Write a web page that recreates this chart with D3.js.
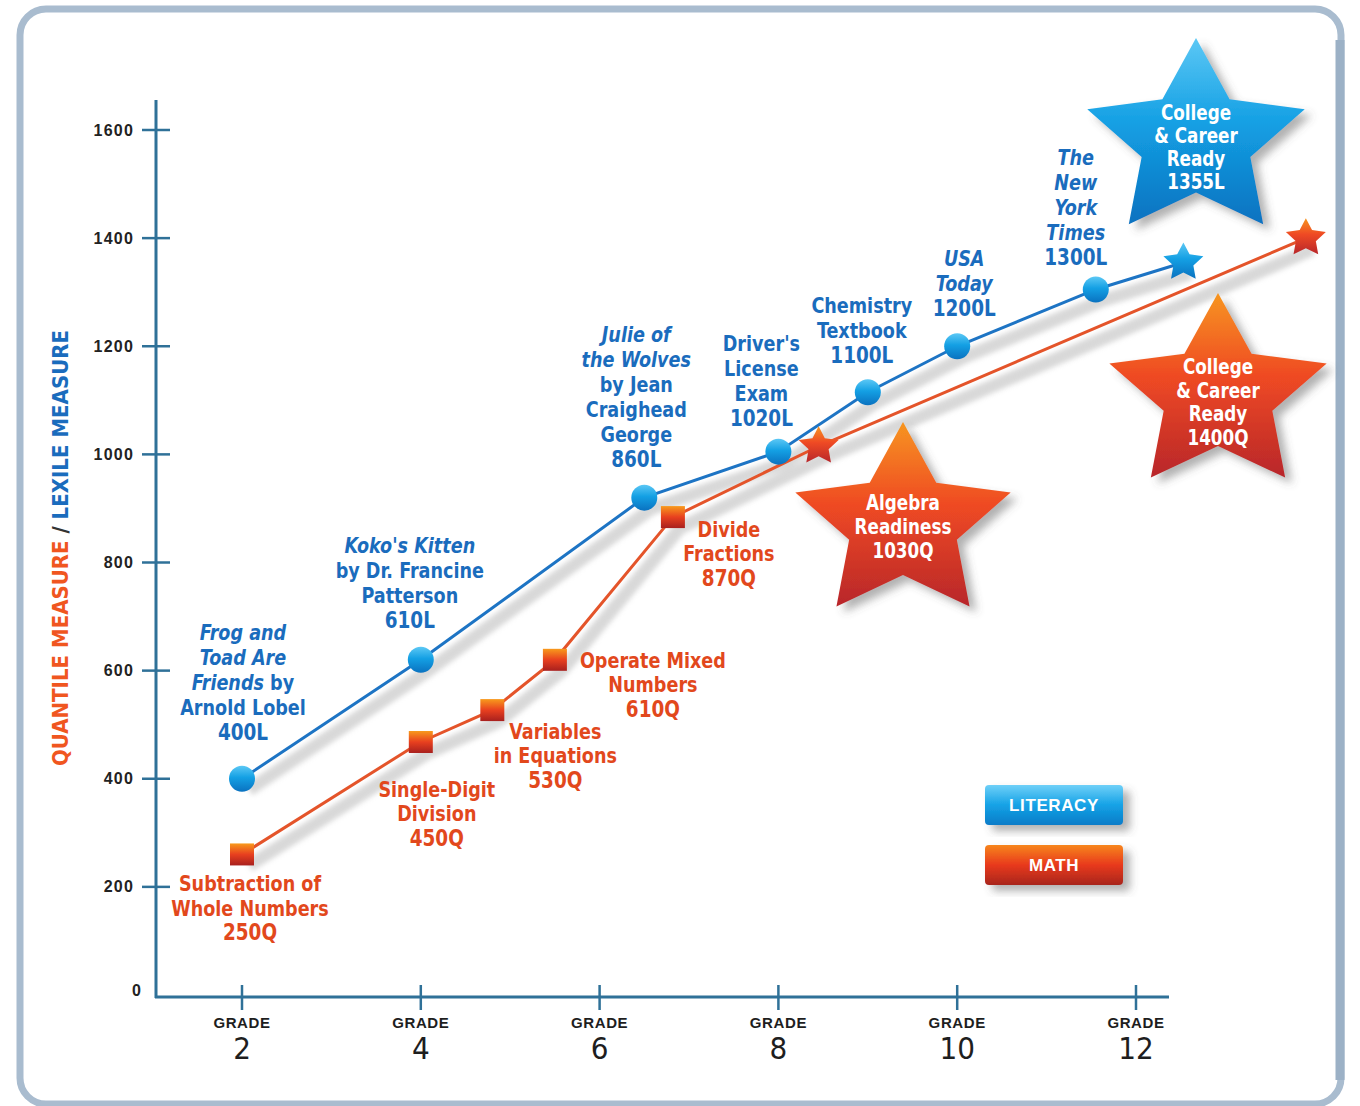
<!DOCTYPE html>
<html><head><meta charset="utf-8">
<script src="https://cdn.jsdelivr.net/npm/d3@7"></script>
<style>
html,body{margin:0;padding:0;background:#fff;}
svg{display:block;}
</style></head>
<body>
<script>
// ---------- DATA ----------
const yTicks = [0, 200, 400, 600, 800, 1000, 1200, 1400, 1600];
const gradeTicks = [2, 4, 6, 8, 10, 12];

const literacyGrades = [2, 4, 6.5, 8, 9, 10, 11.55];
const literacyValues = [400, 620, 920, 1005, 1115, 1200, 1305];
const literacyGoalGrade = 12.53, literacyGoalValue = 1355;

const mathGrades = [2, 4, 4.8, 5.5, 6.82];
const mathValues = [260, 468, 527, 620, 884];
const mathStarGrades = [8.45, 13.9];
const mathStarValues = [1015, 1400];

const literacyLabels = [
  ["*Frog and*", "*Toad Are*", "*Friends* by", "Arnold Lobel", "!400L"],
  ["*Koko's Kitten*", "by Dr. Francine", "Patterson", "!610L"],
  ["*Julie of*", "*the Wolves*", "by Jean", "Craighead", "George", "!860L"],
  ["Driver's", "License", "Exam", "!1020L"],
  ["Chemistry", "Textbook", "!1100L"],
  ["*USA*", "*Today*", "!1200L"],
  ["*The*", "*New*", "*York*", "*Times*", "!1300L"]
];
const mathLabels = [
  ["Subtraction of", "Whole Numbers", "!250Q"],
  ["Single-Digit", "Division", "!450Q"],
  ["Variables", "in Equations", "!530Q"],
  ["Operate Mixed", "Numbers", "!610Q"],
  ["Divide", "Fractions", "!870Q"]
];
const bigStarTexts = [
  ["College", "& Career", "Ready", "1355L"],
  ["Algebra", "Readiness", "1030Q"],
  ["College", "& Career", "Ready", "1400Q"]
];
const legendItems = ["LITERACY", "MATH"];

// ---------- LAYOUT ----------
const W = 1360, H = 1106;
const litOffsets = [[1,-146],[-11,-115],[-8,-163],[-17,-108],[-6,-87],[7,-88],[-20,-132]];
const mathOffsets = [[8,29],[16,47],[63,21],[98,0],[56,12]];
const bigStars = [
  {cx:1196, cy:141, R:103, sx:1.11, kind:"blue", ty:113, lh:23},
  {cx:903, cy:524, R:102, sx:1.11, kind:"orange", ty:503, lh:24},
  {cx:1218, cy:395, R:102, sx:1.12, kind:"orange", ty:367, lh:23.5}
];
const FONT = "'DejaVu Sans Condensed','Liberation Sans',sans-serif";
const SX = 0.89;
const BLUE_TXT = "#1a6cbd", ORG_TXT = "#e2481c";
const BLUE_LINE = "#1d74c4", ORG_LINE = "#e4542a", AXIS = "#2f7198";

const svg = d3.select("body").append("svg").attr("width", W).attr("height", H);
const defs = svg.append("defs");

function grad(id, stops) {
  const g = defs.append("linearGradient").attr("id", id).attr("x1",0).attr("y1",0).attr("x2",0).attr("y2",1);
  stops.forEach(([o,c]) => g.append("stop").attr("offset", o).attr("stop-color", c));
}
grad("gBlue", [[0,"#5cc8f5"],[0.45,"#14a0e4"],[1,"#0a72c0"]]);
grad("gOrange", [[0,"#f7951f"],[0.45,"#ef4a24"],[1,"#b8262a"]]);
grad("gSquare", [[0,"#f89a1c"],[0.5,"#e8401f"],[1,"#a8201e"]]);
grad("gBtnBlue", [[0,"#6fd0f8"],[0.5,"#14a2e6"],[1,"#0a7cc8"]]);
grad("gBtnOrange", [[0,"#f7861f"],[0.5,"#e8391f"],[1,"#a8261e"]]);

const fShadow = defs.append("filter").attr("id","shadow").attr("x","-30%").attr("y","-30%").attr("width","160%").attr("height","160%");
fShadow.append("feDropShadow").attr("dx",7).attr("dy",6).attr("stdDeviation",4).attr("flood-color","#555").attr("flood-opacity",0.45);
const fBlur = defs.append("filter").attr("id","blur").attr("x","-10%").attr("y","-10%").attr("width","120%").attr("height","120%");
fBlur.append("feGaussianBlur").attr("stdDeviation",2.5);

// frame
svg.append("rect").attr("x",20).attr("y",9).attr("width",1321).attr("height",1095).attr("rx",26)
  .attr("fill","#fff").attr("stroke","#a9bccf").attr("stroke-width",7);
svg.append("path").attr("d","M1340,40 L1340,1080").attr("stroke","#9cb1c6").attr("stroke-width",9);

// scales
const x = d3.scaleLinear().domain([2,12]).range([242,1136]);
const y = d3.scaleLinear().domain([0,1600]).range([995,130]);

// axes
const yAxis = svg.append("g").attr("transform","translate(156,0)");
yAxis.append("line").attr("x1",0).attr("x2",0).attr("y1",100).attr("y2",998).attr("stroke",AXIS).attr("stroke-width",3);
yAxis.selectAll("line.t").data(yTicks.filter(d=>d>0)).join("line").attr("class","t")
  .attr("x1",-14).attr("x2",14).attr("y1",d=>y(d)).attr("y2",d=>y(d)).attr("stroke",AXIS).attr("stroke-width",2.5);
yAxis.selectAll("text").data(yTicks).join("text")
  .attr("x", d => d === 0 ? -14 : -22).attr("y", d => d === 0 ? y(d)-5 : y(d)).attr("dy","0.35em")
  .attr("text-anchor","end").attr("font-family","'Liberation Sans',Arial,sans-serif").attr("font-weight","bold")
  .attr("font-size",16).attr("letter-spacing","1.2").attr("fill","#222").text(d=>d);

const xAxis = svg.append("g");
xAxis.append("line").attr("x1",155).attr("x2",1169).attr("y1",997).attr("y2",997).attr("stroke",AXIS).attr("stroke-width",3);
xAxis.selectAll("line.t").data(gradeTicks).join("line").attr("class","t")
  .attr("x1",d=>x(d)).attr("x2",d=>x(d)).attr("y1",985).attr("y2",1010).attr("stroke",AXIS).attr("stroke-width",2.5);
xAxis.selectAll("text.g").data(gradeTicks).join("text").attr("class","g")
  .attr("x",d=>x(d)).attr("y",1028).attr("text-anchor","middle").attr("font-family","'Liberation Sans',Arial,sans-serif")
  .attr("font-weight","bold").attr("font-size",15).attr("fill","#1e1e1e").attr("letter-spacing","0.6").text("GRADE");
xAxis.selectAll("text.n").data(gradeTicks).join("text").attr("class","n")
  .attr("x",d=>x(d)).attr("y",1059).attr("text-anchor","middle").attr("font-family","'DejaVu Sans Condensed','Liberation Sans',sans-serif")
  .attr("font-size",31).attr("fill","#1e1e1e").text(d=>d);

// y title
const yt = svg.append("text").attr("transform","translate(68,548) rotate(-90)").attr("text-anchor","middle")
  .attr("font-family",FONT).attr("font-weight","bold").attr("font-size",22);
yt.append("tspan").attr("fill","#f0561f").text("QUANTILE MEASURE");
yt.append("tspan").attr("fill","#333").text(" / ");
yt.append("tspan").attr("fill","#1a6cbd").text("LEXILE MEASURE");

// line data
const litPts = literacyGrades.map((g,i)=>[x(g), y(literacyValues[i])]).concat([[x(literacyGoalGrade), y(literacyGoalValue)]]);
const mathPts = mathGrades.map((g,i)=>[x(g), y(mathValues[i])]).concat(mathStarGrades.map((g,i)=>[x(g), y(mathStarValues[i])]));
const lineGen = d3.line();

// shadows of lines
const sh = svg.append("g").attr("filter","url(#blur)").attr("opacity",0.55);
[litPts, mathPts].forEach(p => sh.append("path").attr("d", lineGen(p.map(([a,b])=>[a+7,b+11])))
  .attr("fill","none").attr("stroke","#b9b9b9").attr("stroke-width",13));

svg.append("path").attr("d", lineGen(litPts)).attr("fill","none").attr("stroke",BLUE_LINE).attr("stroke-width",3);
svg.append("path").attr("d", lineGen(mathPts)).attr("fill","none").attr("stroke",ORG_LINE).attr("stroke-width",3);

function starPath(cx, cy, R, r, sx) {
  sx = sx || 1;
  const pts = [];
  for (let i = 0; i < 10; i++) {
    const a = -Math.PI/2 + i*Math.PI/5;
    const rr = i % 2 ? r : R;
    pts.push([cx + sx*rr*Math.cos(a), cy + rr*Math.sin(a)]);
  }
  return "M" + pts.map(p=>p.join(",")).join("L") + "Z";
}

// markers
svg.selectAll("circle.lit").data(literacyGrades).join("circle").attr("class","lit")
  .attr("cx",(d)=>x(d)).attr("cy",(d,i)=>y(literacyValues[i])).attr("r",13).attr("fill","url(#gBlue)");
svg.selectAll("rect.math").data(mathGrades).join("rect").attr("class","math")
  .attr("x",d=>x(d)-12).attr("y",(d,i)=>y(mathValues[i])-11).attr("width",24).attr("height",22).attr("fill","url(#gSquare)");
svg.append("path").attr("d", starPath(x(literacyGoalGrade), y(literacyGoalValue), 20, 10, 1.05)).attr("fill","url(#gBlue)");
mathStarGrades.forEach((g,i)=> svg.append("path").attr("d", starPath(x(g), y(mathStarValues[i]), 20, 10, 1.05)).attr("fill","url(#gOrange)"));

// text helper with horizontal condensing
function ctext(g, cx, cy, size) {
  return g.append("text").attr("transform", `translate(${cx},${cy}) scale(${SX},1)`).attr("dy","0.35em")
    .attr("text-anchor","middle").attr("font-family",FONT).attr("font-size",size).attr("font-weight","bold");
}
function richLines(g, lines, cx, y0, lh, color, size) {
  lines.forEach((ln, k) => {
    const t = ctext(g, cx, y0 + k*lh, size).attr("fill",color);
    if (ln.startsWith("!")) { t.append("tspan").text(ln.slice(1)).attr("font-size", size+1); return; }
    ln.split("*").forEach((p, j) => { if (p) t.append("tspan").attr("font-style", j%2 ? "italic" : "normal").text(p); });
  });
}
const lab = svg.append("g");
literacyLabels.forEach((lines,i) => {
  richLines(lab, lines, x(literacyGrades[i]) + litOffsets[i][0], y(literacyValues[i]) + litOffsets[i][1], 25, BLUE_TXT, 22);
});
mathLabels.forEach((lines,i) => {
  richLines(lab, lines, x(mathGrades[i]) + mathOffsets[i][0], y(mathValues[i]) + mathOffsets[i][1], 24.5, ORG_TXT, 22);
});

// big stars
bigStars.forEach((s, i) => {
  svg.append("path").attr("d", starPath(s.cx, s.cy, s.R, s.R*0.5, s.sx))
    .attr("fill", s.kind === "blue" ? "url(#gBlue)" : "url(#gOrange)").attr("filter","url(#shadow)");
  bigStarTexts[i].forEach((ln, k) => {
    ctext(svg, s.cx, s.ty + k*s.lh, 21).attr("fill","#fff").text(ln);
  });
});

// legend
const leg = svg.append("g");
legendItems.forEach((name, i) => {
  const yy = 785 + i*60;
  leg.append("rect").attr("x",985).attr("y",yy).attr("width",138).attr("height",40).attr("rx",4)
    .attr("fill", i===0 ? "url(#gBtnBlue)" : "url(#gBtnOrange)").attr("filter","url(#shadow)");
  leg.append("text").attr("x",1054).attr("y",yy+20).attr("dy","0.35em").attr("text-anchor","middle")
    .attr("font-family","'Liberation Sans',Arial,sans-serif").attr("font-weight","bold").attr("font-size",17)
    .attr("letter-spacing","0.6").attr("fill","#fff").text(name);
});
</script>
</body></html>
